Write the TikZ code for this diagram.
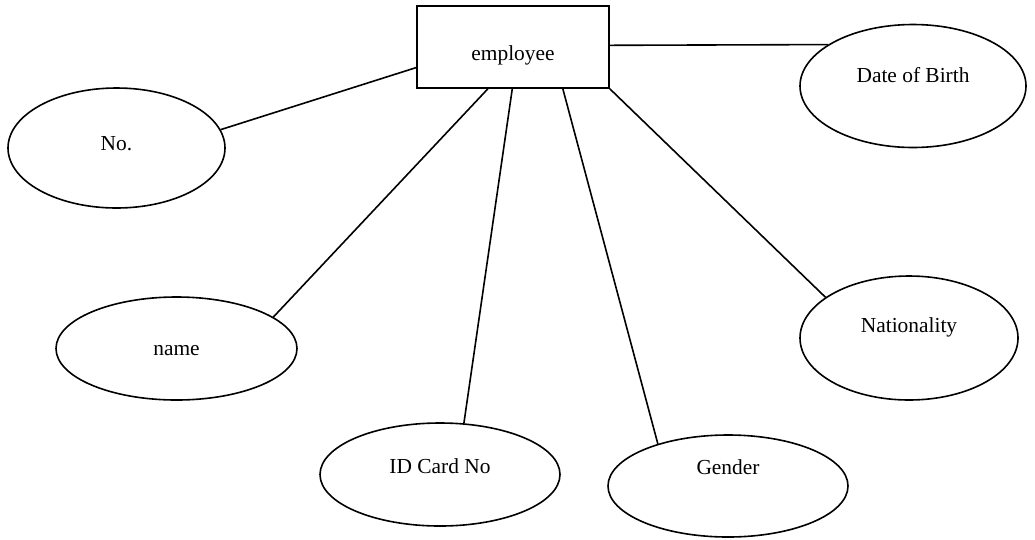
\documentclass[tikz,border=0pt]{standalone}
\usepackage{fontspec}
\setmainfont{Liberation Serif}
\usetikzlibrary{shapes.geometric}

\begin{document}
\begin{tikzpicture}[x=1pt, y=-1pt, line width=1.6pt,
    entity/.style={draw, rectangle, minimum width=192pt, minimum height=82pt},
    attr/.style={draw, ellipse, inner sep=0pt},
    every label/.style={font=\fontsize{21.4}{25}\selectfont, anchor=center}]
        \useasboundingbox (0, 0) rectangle (1035, 539);

        % Draw the entity
        \node[entity, label={[yshift=-8.7pt]center:employee}] (emp) at (513, 47) {};

        % Draw the attributes
        \node[attr, minimum width=217pt, minimum height=120pt, label={[yshift=4.5pt]center:No.}] (no) at (116.5, 148) {};
        \node[attr, minimum width=226pt, minimum height=123pt, label={[yshift=11pt]center:Date of Birth}] (dob) at (913, 86) {};
        \node[attr, minimum width=241pt, minimum height=103pt, label={[yshift=-2.5pt]center:name}] (name) at (176.5, 348.5) {};
        \node[attr, minimum width=240pt, minimum height=103pt, label={[yshift=8.5pt]center:ID Card No}] (idcard) at (440, 474.5) {};
        \node[attr, minimum width=240pt, minimum height=102pt, label={[yshift=19pt]center:Gender}] (gender) at (728, 486) {};
        \node[attr, minimum width=218pt, minimum height=124pt, label={[yshift=11pt]center:Nationality}] (nat) at (909, 338) {};

        % Draw the lines from the entity to its attributes
        \draw (emp.192) -- (no.10);
        \draw (emp.1) -- (dob.154);
        \draw (emp.-121) -- (name.18);
        \draw (emp.-91) -- (idcard.65);
        \draw (emp.-40.5) -- (gender.149);
        \draw (emp.south east) -- (nat.154);
\end{tikzpicture}
\end{document}
